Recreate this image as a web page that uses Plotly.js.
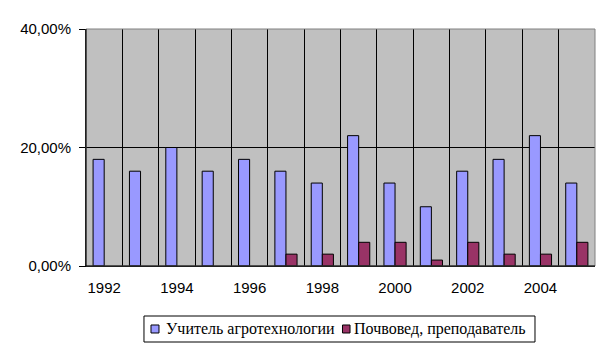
<!DOCTYPE html>
<html>
<head>
<meta charset="utf-8">
<script src="https://cdn.plot.ly/plotly-3.0.1.min.js"></script>
<style>html,body{margin:0;padding:0;background:#fff;}#chart{width:611px;height:352px;}</style>
</head>
<body>
<div id="chart"></div>
<script>
const years = ['1992','1993','1994','1995','1996','1997','1998','1999','2000','2001','2002','2003','2004','2005'];
const teacherAgro = [0.18,0.16,0.20,0.16,0.18,0.16,0.14,0.22,0.14,0.10,0.16,0.18,0.22,0.14];
const soilScientist = [0,0,0,0,0,0.02,0.02,0.04,0.04,0.01,0.04,0.02,0.02,0.04];
const seriesNames = ['Учитель агротехнологии','Почвовед, преподаватель'];
const seriesColors = ['#9999FF','#993366'];
const yTickVals = [0,0.2,0.4];
const yTickText = ['0,00%','20,00%','40,00%'];
const xTickText = years.map((y,i)=> i%2===0 ? y : '');

const outline = vals => vals.map(v => v === 0 ? 0 : 1);
const traces = [
  {type:'bar', x:years, y:teacherAgro, name:seriesNames[0],
   marker:{color:seriesColors[0], line:{color:'#000', width:outline(teacherAgro)}}},
  {type:'bar', x:years, y:soilScientist, name:seriesNames[1],
   marker:{color:seriesColors[1], line:{color:'#000', width:outline(soilScientist)}}}
];
const serif = 'Liberation Serif';
const legendY = -0.2658;
const layout = {
  width:611, height:352,
  margin:{l:86, r:16, t:29, b:86},
  paper_bgcolor:'#fff', plot_bgcolor:'#C0C0C0',
  barmode:'group', bargap:0.39, bargroupgap:0,
  font:{family:'Liberation Sans', size:15, color:'#000'},
  xaxis:{type:'category', tickson:'boundaries', tickvals:years, ticktext:xTickText, tickangle:0,
         automargin:false, showgrid:true, gridcolor:'#000', gridwidth:1, ticks:'', ticklabelstandoff:8,
         showline:true, linecolor:'#000', linewidth:1, tickfont:{size:15}, zeroline:false},
  yaxis:{range:[0,0.4], tickvals:yTickVals, ticktext:yTickText, automargin:false,
         showgrid:true, gridcolor:'#000', gridwidth:1,
         ticks:'outside', ticklen:6, tickcolor:'#000', ticklabelstandoff:5,
         showline:true, linecolor:'#000', linewidth:1, zeroline:false, tickfont:{size:15}},
  showlegend:false,
  shapes:[
    {type:'rect', xref:'paper', yref:'paper', x0:0, x1:1, y0:0, y1:1, line:{color:'#808080', width:1}, fillcolor:'rgba(0,0,0,0)', layer:'above'},
    {type:'line', xref:'paper', yref:'paper', x0:0, x1:0, y0:0, y1:1, line:{color:'#000', width:1}, layer:'above'},
    {type:'line', xref:'paper', yref:'paper', x0:0, x1:1, y0:0, y1:0, line:{color:'#000', width:1}, layer:'above'},
    {type:'rect', xref:'paper', yref:'paper', x0:0.1139, x1:0.8821, y0:-0.2110, y1:-0.3207, line:{color:'#000', width:1}, fillcolor:'#fff'},
    {type:'rect', xref:'paper', yref:'paper', x0:0.1277, x1:0.1434, y0:-0.2489, y1:-0.2827, line:{color:'#000', width:1}, fillcolor:seriesColors[0]},
    {type:'rect', xref:'paper', yref:'paper', x0:0.5039, x1:0.5187, y0:-0.2489, y1:-0.2827, line:{color:'#000', width:1}, fillcolor:seriesColors[1]}
  ],
  annotations:[
    {xref:'paper', yref:'paper', x:0.1532, y:legendY, xanchor:'left', yanchor:'middle', showarrow:false,
     text:seriesNames[0], font:{family:serif, size:16, color:'#000'}},
    {xref:'paper', yref:'paper', x:0.5226, y:legendY, xanchor:'left', yanchor:'middle', showarrow:false,
     text:seriesNames[1], font:{family:serif, size:16, color:'#000'}}
  ]
};
Plotly.newPlot('chart', traces, layout, {staticPlot:true, displayModeBar:false});
</script>
</body>
</html>
